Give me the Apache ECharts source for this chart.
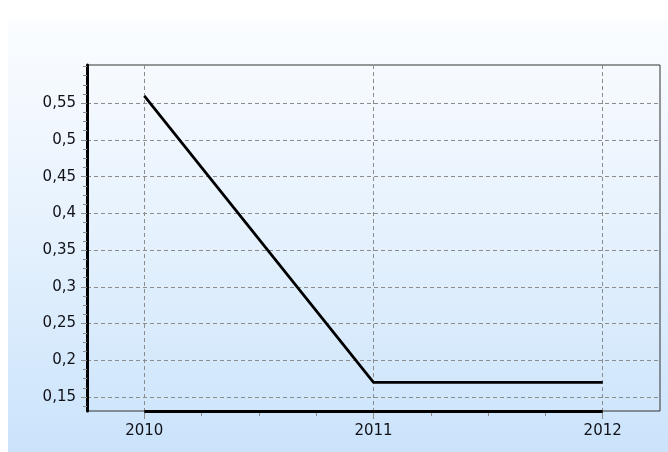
<!DOCTYPE html>
<html>
<head>
<meta charset="utf-8">
<script src="https://cdn.jsdelivr.net/npm/echarts@6/dist/echarts.min.js"></script>
<style>
  html, body { margin: 0; padding: 0; background: #ffffff; }
  #chart { width: 668px; height: 452px; }
</style>
</head>
<body>
<div id="chart"></div>
<script>
// Yearly values
const years = [2010, 2011, 2012];
const values = [0.56, 0.17, 0.17];

// Axis ranges and tick labels
const xRange = [2009.75, 2012.25];
const yRange = [0.131, 0.602];
const yTickValues = [0.15, 0.2, 0.25, 0.3, 0.35, 0.4, 0.45, 0.5, 0.55];
const xMinorStep = 0.25;
const yMinorStep = 0.0125;

// Minor tick positions between the labelled ticks
function minorTicks(start, end, step, majors) {
  const out = [];
  const n = Math.floor((end - start) / step + 1e-9);
  for (let i = 0; i <= n; i++) {
    const v = +(start + i * step).toFixed(6);
    if (!majors.some(m => Math.abs(m - v) < 1e-9)) out.push(v);
  }
  return out;
}
const xMinor = minorTicks(years[0], years[years.length - 1], xMinorStep, years);
const yMinor = minorTicks(0.1375, yRange[1], yMinorStep, yTickValues);

const fmt = v => String(+v.toFixed(2)).replace('.', ',');
const gridColor = '#8c8c8c';
const textStyle = { color: '#111118', fontFamily: 'DejaVu Sans, Verdana, sans-serif', fontSize: 15 };

const chart = echarts.init(document.getElementById('chart'), null, { renderer: 'canvas' });
chart.setOption({
  animation: false,
  backgroundColor: '#ffffff',
  graphic: [{
    type: 'rect',
    left: 8, top: 20,
    shape: { width: 660, height: 432 },
    z: -10,
    style: {
      fill: new echarts.graphic.LinearGradient(0, 0, 0, 1, [
        { offset: 0, color: '#fbfdff' },
        { offset: 0.5, color: '#e5f1fd' },
        { offset: 1, color: '#cae3fb' }
      ])
    }
  }],
  grid: {
    left: 87, right: 8, top: 65, bottom: 41,
    show: true, borderColor: '#333', borderWidth: 1, backgroundColor: 'transparent'
  },
  xAxis: [{
    type: 'value', min: xRange[0], max: xRange[1],
    axisLine: { show: false },
    axisTick: { show: true, customValues: years, length: 8, lineStyle: { color: gridColor } },
    axisLabel: { customValues: years, formatter: v => String(v), margin: 13, ...textStyle },
    splitLine: { show: true, lineStyle: { color: gridColor, type: [4, 3], width: 1 } }
  }, {
    type: 'value', min: xRange[0], max: xRange[1], position: 'bottom',
    axisLine: { show: false },
    axisTick: { show: true, customValues: xMinor, length: 5, lineStyle: { color: gridColor } },
    axisLabel: { show: false },
    splitLine: { show: false }
  }],
  yAxis: [{
    type: 'value', min: yRange[0], max: yRange[1],
    axisLine: { show: true, lineStyle: { color: '#000', width: 3 } },
    axisTick: { show: true, customValues: yTickValues, length: 6, lineStyle: { color: gridColor } },
    axisLabel: { customValues: yTickValues, formatter: fmt, margin: 11, ...textStyle },
    splitLine: { show: true, lineStyle: { color: gridColor, type: [4, 3], width: 1 } }
  }, {
    type: 'value', min: yRange[0], max: yRange[1], position: 'left', offset: 0,
    axisLine: { show: false },
    axisTick: { show: true, customValues: yMinor, length: 4, lineStyle: { color: gridColor } },
    axisLabel: { show: false },
    splitLine: { show: false }
  }],
  series: [{
    type: 'line',
    data: years.map((y, i) => [y, values[i]]),
    showSymbol: false,
    lineStyle: { color: '#000', width: 2.8 },
    z: 5,
    markLine: {
      silent: true,
      symbol: 'none',
      label: { show: false },
      lineStyle: { color: '#000', width: 3, type: 'solid' },
      data: [[{ coord: [years[0], yRange[0]] }, { coord: [years[years.length - 1], yRange[0]] }]]
    }
  }]
});
</script>
</body>
</html>
